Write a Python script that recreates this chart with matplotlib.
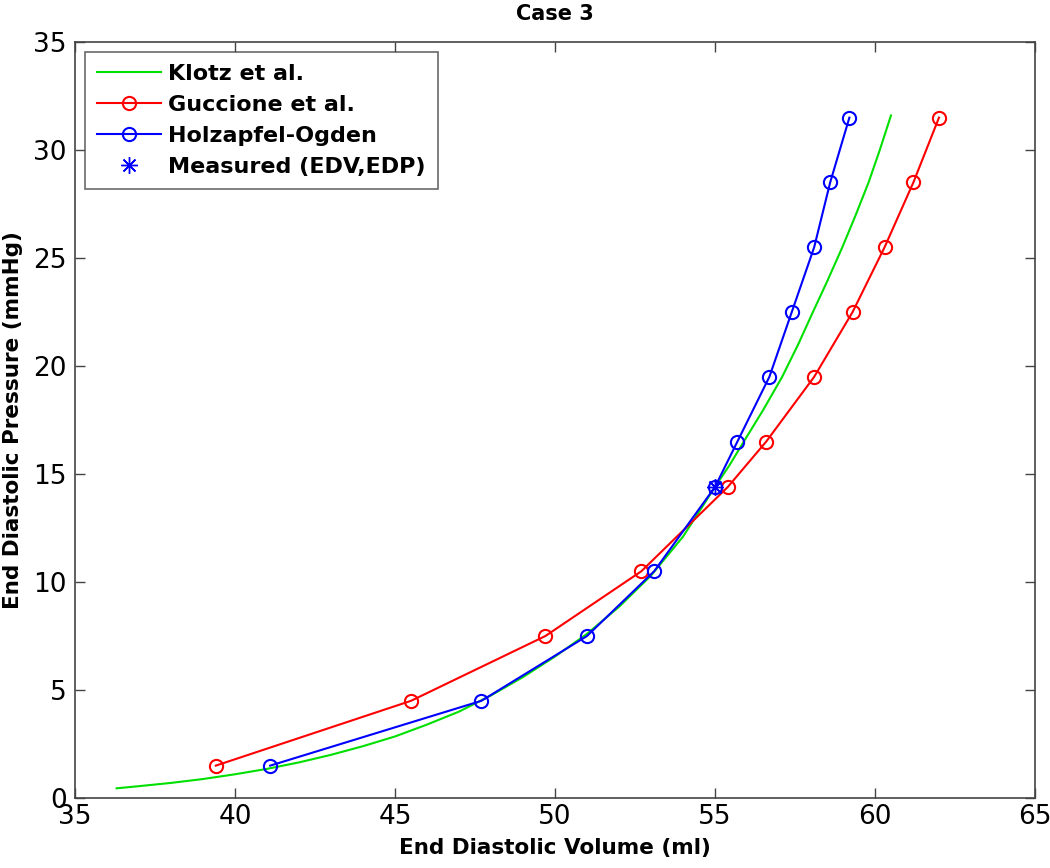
import matplotlib
matplotlib.use('Agg')
from matplotlib import pyplot as plt

# Klotz et al. curve.
klotzEdv = [36.3, 37.0, 38.0, 39.0, 40.0, 41.0, 42.0, 43.0, 44.0, 45.0, 46.0,
            47.0, 48.0, 49.0, 50.0, 51.0, 52.0, 53.0, 54.0, 55.0, 55.45, 55.9,
            56.5, 57.1, 57.6, 58.06, 58.5, 58.98, 59.4, 59.8, 60.15, 60.5]
klotzEdp = [0.45, 0.55, 0.7, 0.88, 1.1, 1.35, 1.65, 2.0, 2.4, 2.85, 3.4,
            4.0, 4.75, 5.6, 6.55, 7.6, 8.85, 10.3, 12.1, 14.4, 15.4, 16.5,
            17.95, 19.5, 21.0, 22.5, 23.9, 25.5, 27.0, 28.5, 30.0, 31.6]

# Guccione et al.
gucEdv = [39.4, 45.5, 49.7, 52.7, 55.4, 56.6, 58.1, 59.3, 60.3, 61.2, 62.0]
gucEdp = [1.5, 4.5, 7.5, 10.5, 14.4, 16.5, 19.5, 22.5, 25.5, 28.5, 31.5]

# Holzapfel-Ogden.
hoEdv = [41.1, 47.7, 51.0, 53.1, 55.0, 55.7, 56.7, 57.4, 58.1, 58.6, 59.2]
hoEdp = [1.5, 4.5, 7.5, 10.5, 14.4, 16.5, 19.5, 22.5, 25.5, 28.5, 31.5]

# Measured point.
measEdv = [55.0]
measEdp = [14.4]

xTicks = [35, 40, 45, 50, 55, 60, 65]
yTicks = [0, 5, 10, 15, 20, 25, 30, 35]

plt.rcParams['font.family'] = ['DejaVu Sans']

fig = plt.figure(figsize=(10.5, 8.68), dpi=100)
ax = fig.add_axes([0.0714, 0.0806, 0.9143, 0.871])

ax.plot(klotzEdv, klotzEdp, color='#00e000', lw=1.5, label='Klotz et al.')
ax.plot(gucEdv, gucEdp, color='red', lw=1.5, marker='o', ms=9.5,
        mfc='none', mew=1.5, label='Guccione et al.')
ax.plot(hoEdv, hoEdp, color='blue', lw=1.5, marker='o', ms=9.5,
        mfc='none', mew=1.5, label='Holzapfel-Ogden')
ax.plot(measEdv, measEdp, ls='none', color='blue', marker=(8, 2, 0), ms=12,
        mew=1.0, label='Measured (EDV,EDP)')

ax.set_xlim(35, 65)
ax.set_ylim(0, 35)
ax.set_xticks(xTicks)
ax.set_yticks(yTicks)
ax.tick_params(direction='in', top=True, right=True, labelsize=19,
               length=7, width=1.0, color='#444444')
ax.tick_params(axis='x', pad=4)
ax.tick_params(axis='y', pad=6)
for s in ax.spines.values():
  s.set_color('#444444')
  s.set_linewidth(1.2)

ax.set_xlabel('End Diastolic Volume (ml)', fontsize=15.5, fontweight='bold', labelpad=6)
ax.set_ylabel('End Diastolic Pressure (mmHg)', fontsize=15.5, fontweight='bold', labelpad=7)
ax.set_title('Case 3', fontsize=15, fontweight='bold', pad=16)

leg = ax.legend(loc='upper left', fontsize=16, frameon=True, fancybox=False,
                edgecolor='#444444', borderaxespad=0.43, handlelength=2.9,
                labelspacing=0.5, borderpad=0.55, handletextpad=0.32)
leg.get_frame().set_linewidth(1.2)
for t in leg.get_texts():
  t.set_fontweight('bold')

fig.savefig('out.png', dpi=100)
